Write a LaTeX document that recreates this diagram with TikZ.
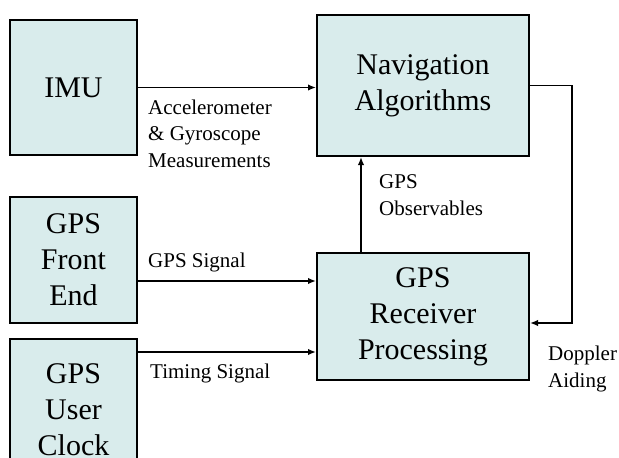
\documentclass[tikz,border=0pt]{standalone}
\usepackage{fontspec}
\setmainfont{Liberation Serif}
\usetikzlibrary{positioning, arrows.meta}
\definecolor{boxfill}{RGB}{217,236,236}

\begin{document}
\begin{tikzpicture}[x=1pt,y=-1pt,>={Latex[length=8pt,width=6.5pt]}]
        \tikzstyle{block}=[draw, line width=2pt, fill=boxfill, rectangle, inner sep=0pt, align=center, font=\fontsize{30}{36}\selectfont]
        \tikzstyle{lab}=[inner sep=0pt, align=left, anchor=west, font=\fontsize{21}{26.5}\selectfont]
        \tikzstyle{line}=[line width=1.8pt]
        \clip (0,0) rectangle (619,458);
        \fill[white] (0,0) rectangle (619,458);
        \node[block, minimum width=127pt, minimum height=135pt]  (0) at (73.5,87.5)  {IMU};
        \node[block, minimum width=212pt, minimum height=141pt]  (1) at (423,85.5)   {Navigation\\Algorithms};
        \node[block, minimum width=127pt, minimum height=126pt]  (2) at (73.5,260)   {GPS\\Front\\End};
        \node[block, minimum width=212pt, minimum height=127pt]  (3) at (423,316.5)  {GPS\\Receiver\\Processing};
        \node[block, minimum width=127pt, minimum height=144pt, anchor=north]  (4) at (73.5,338) {};
        \node[inner sep=0pt, align=center, font=\fontsize{30}{36}\selectfont] (5) at (73.5,410) {GPS\\User\\Clock};
        \draw[->,line]  (0.east) -- (0.east -| 1.west);
        \draw[->,line]  ([yshift=35.5pt]3.west -| 2.east) -- ([yshift=35.5pt]3.west);
        \draw[->,line]  ([yshift=-35.5pt]3.west -| 4.east) -- ([yshift=-35.5pt]3.west);
        \draw[->,line]  ([xshift=-62pt]3.north) -- ([xshift=-62pt]3.north |- 1.south);
        \draw[->,line]  (1.east) -- ++(42pt,0) |- ([yshift=-6.5pt]3.east);
        \node[lab] (6) at (148,133.5) {Accelerometer\\\& Gyroscope\\Measurements};
        \node[lab] (7) at (148,262)   {GPS Signal};
        \node[lab] (8) at (150,373)   {Timing Signal};
        \node[lab] (9) at (379,195)   {GPS\\Observables};
        \node[lab] (10) at (548,369)  {Doppler\\Aiding};
    \end{tikzpicture}
\end{document}
